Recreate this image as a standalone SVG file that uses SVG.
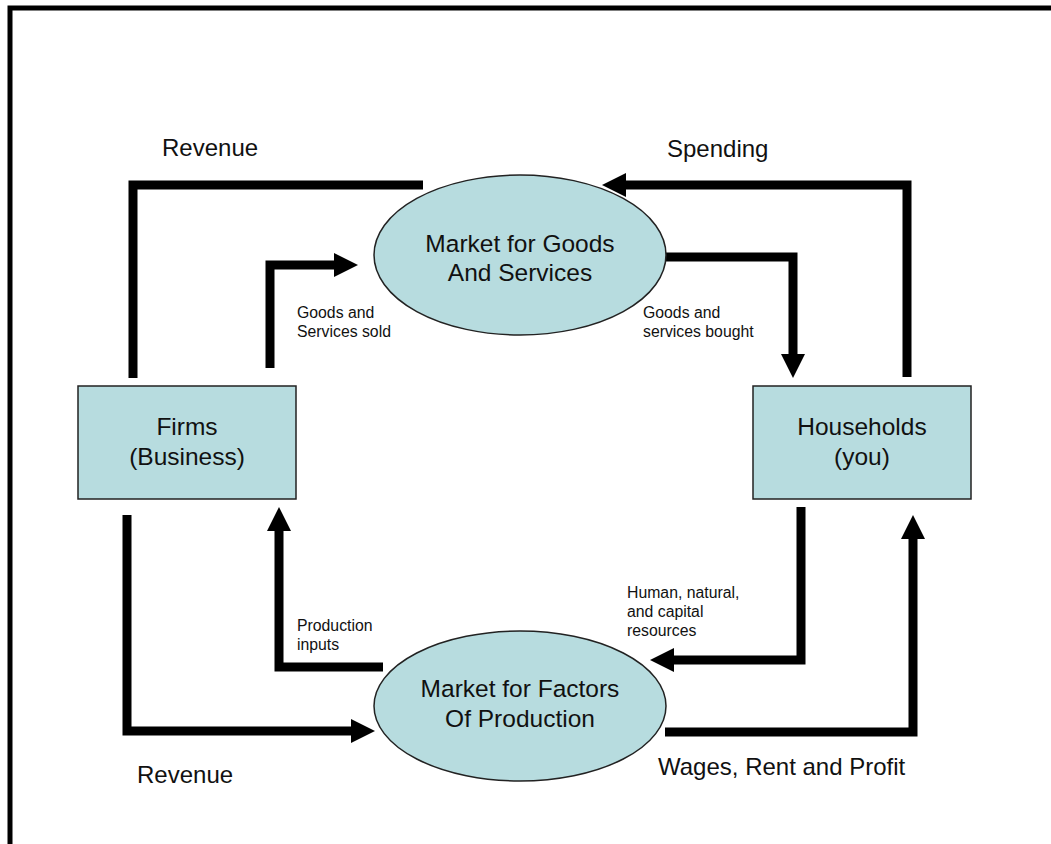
<svg xmlns="http://www.w3.org/2000/svg" width="1051" height="844" viewBox="0 0 1051 844">
  <style>
    .node { fill: #b7dcdf; stroke: #222; stroke-width: 1.5; }
    .big { font-family: "Liberation Sans", Arial, sans-serif; font-size: 24.5px; fill: #111; text-anchor: middle; }
    .lbl { font-family: "Liberation Sans", Arial, sans-serif; font-size: 24px; fill: #111; }
    .small { font-family: "Liberation Sans", Arial, sans-serif; font-size: 15.8px; fill: #111; }
    .flow { fill: none; stroke: #000; stroke-width: 9; stroke-linejoin: miter; stroke-linecap: butt; }
  </style>
  <defs>
    <marker id="arrow" markerUnits="userSpaceOnUse" markerWidth="24" markerHeight="24" viewBox="0 0 24 24" refX="1" refY="12" orient="auto">
      <path d="M0,0 L24,12 L0,24 Z" fill="#000"/>
    </marker>
  </defs>
  <rect x="0" y="0" width="1051" height="844" fill="#fff"/>
  <rect x="10" y="8" width="1100" height="900" fill="none" stroke="#000" stroke-width="5"/>

  <g id="connectors">
    <path class="flow" d="M133,378 V185 H423"/>
    <path class="flow" d="M270,368 V265 H335" marker-end="url(#arrow)"/>
    <path class="flow" d="M907,377 V185 H625" marker-end="url(#arrow)"/>
    <path class="flow" d="M665,257 H793 V355" marker-end="url(#arrow)"/>
    <path class="flow" d="M801,507 V660 H673" marker-end="url(#arrow)"/>
    <path class="flow" d="M665,732 H913 V538" marker-end="url(#arrow)"/>
    <path class="flow" d="M127,515 V731 H352" marker-end="url(#arrow)"/>
    <path class="flow" d="M383,667 H279 V530" marker-end="url(#arrow)"/>
  </g>

  <g id="market-goods">
    <ellipse class="node" cx="520" cy="255" rx="146" ry="80"/>
    <text class="big" x="520" y="252">Market for Goods</text>
    <text class="big" x="520" y="281">And Services</text>
  </g>
  <g id="market-factors">
    <ellipse class="node" cx="520" cy="706" rx="146" ry="75"/>
    <text class="big" x="520" y="697">Market for Factors</text>
    <text class="big" x="520" y="727">Of Production</text>
  </g>
  <g id="firms">
    <rect class="node" x="78" y="386" width="218" height="113"/>
    <text class="big" x="187" y="435">Firms</text>
    <text class="big" x="187" y="465">(Business)</text>
  </g>
  <g id="households">
    <rect class="node" x="753" y="386" width="218" height="113"/>
    <text class="big" x="862" y="435">Households</text>
    <text class="big" x="862" y="465">(you)</text>
  </g>

  <g id="labels">
    <text class="lbl" x="162" y="156">Revenue</text>
    <text class="lbl" x="667" y="157">Spending</text>
    <text class="lbl" x="137" y="783">Revenue</text>
    <text class="lbl" x="658" y="775">Wages, Rent and Profit</text>
    <text class="small" x="297" y="318">Goods and</text>
    <text class="small" x="297" y="337">Services sold</text>
    <text class="small" x="643" y="318">Goods and</text>
    <text class="small" x="643" y="337">services bought</text>
    <text class="small" x="627" y="598">Human, natural,</text>
    <text class="small" x="627" y="617">and capital</text>
    <text class="small" x="627" y="636">resources</text>
    <text class="small" x="297" y="631">Production</text>
    <text class="small" x="297" y="650">inputs</text>
  </g>
</svg>
